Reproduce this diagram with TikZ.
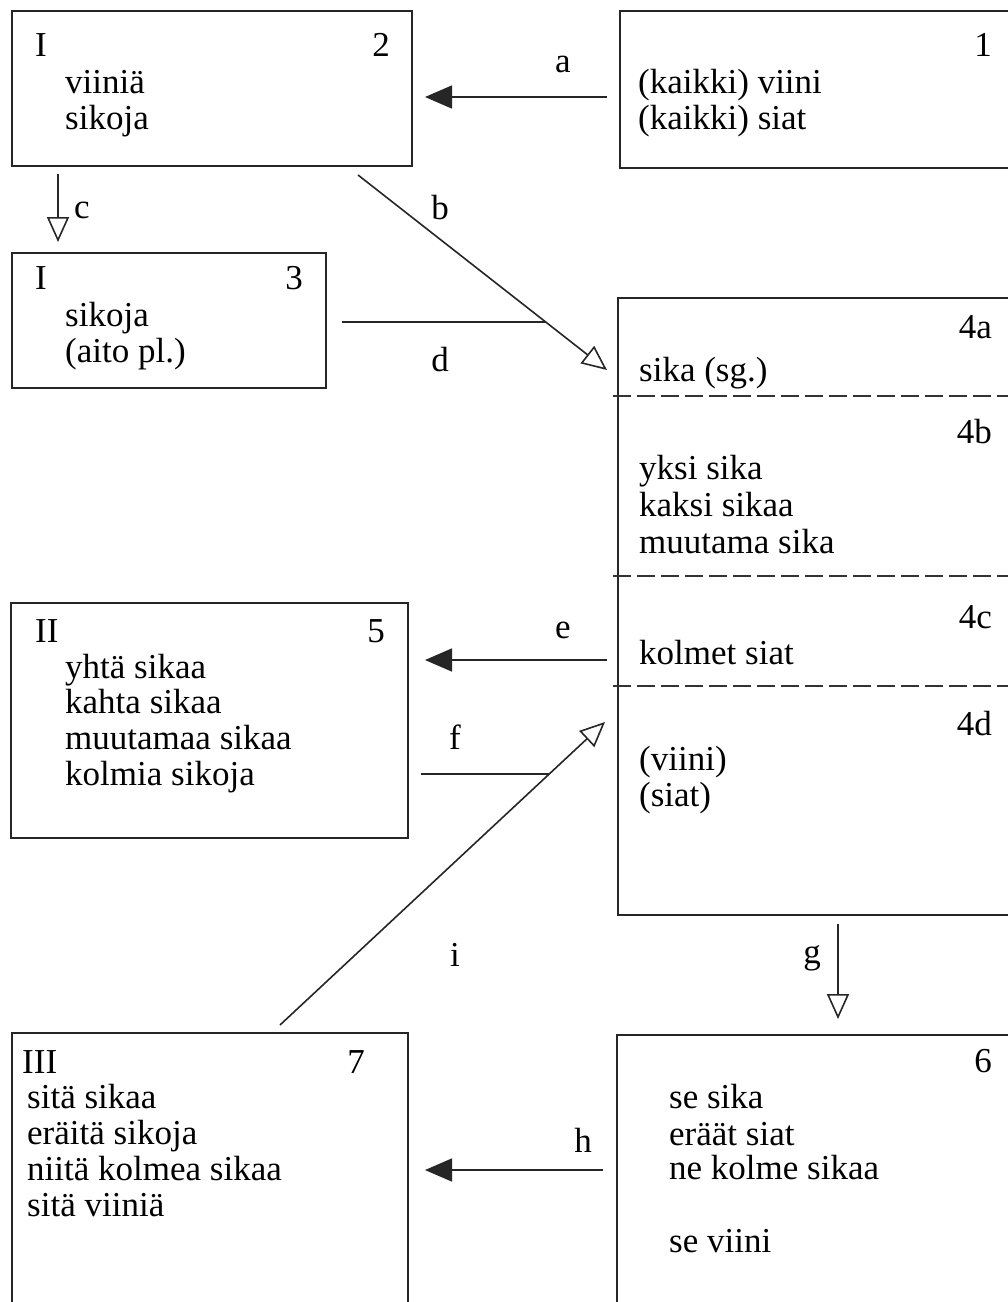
\documentclass[tikz,border=0pt]{standalone}
\usepackage{fontspec}
\setmainfont{Liberation Serif}
\usetikzlibrary{arrows.meta}
\begin{document}
\begin{tikzpicture}[x=1pt,y=-1pt,
  box/.style={draw=black!85,line width=1.5pt,anchor=north west,inner sep=0pt,outer sep=0pt},
  txt/.style={anchor=base west,inner sep=0pt,font=\fontsize{35}{36}\selectfont},
  num/.style={anchor=base east,inner sep=0pt,font=\fontsize{35}{36}\selectfont},
  lab/.style={inner sep=0pt,font=\fontsize{35}{36}\selectfont},
  conn/.style={line width=1.6pt,draw=black!85},
  solidtip/.style={conn,-{Triangle[length=27pt,width=23pt]}},
  opentip/.style={conn,-{Triangle[open,length=25pt,width=22pt,line width=1.6pt]}},
  sepline/.style={line width=1.3pt,dash pattern=on 18pt off 6pt,draw=black!80}]
\clip (0,0) rectangle (1008,1302);
\fill[white] (0,0) rectangle (1008,1302);
% boxes
\node[box,minimum width=400pt,minimum height=155pt] (b2) at (12,11) {};
\node[box,minimum width=420pt,minimum height=157pt] (b1) at (620,11) {};
\node[box,minimum width=314pt,minimum height=135pt] (b3) at (12,253) {};
\node[box,minimum width=420pt,minimum height=617pt] (b4) at (618,298) {};
\node[box,minimum width=397pt,minimum height=235pt] (b5) at (11,603) {};
\node[box,minimum width=396pt,minimum height=300pt] (b7) at (12,1033) {};
\node[box,minimum width=420pt,minimum height=300pt] (b6) at (617,1035) {};
% dashed separators in box 4
\draw[sepline] (613,396) -- (1010,396);
\draw[sepline] (613,576) -- (1010,576);
\draw[sepline] (613,686) -- (1010,686);
% box 2
\node[txt] (t2a) at (35,56) {I};
\node[num] (t2n) at (390,56) {2};
\node[txt] (t2b) at (65,93) {viiniä};
\node[txt] (t2c) at (65,129) {sikoja};
% box 1
\node[num] (t1n) at (992,56) {1};
\node[txt] (t1a) at (638,93) {(kaikki) viini};
\node[txt] (t1b) at (638,129) {(kaikki) siat};
% box 3
\node[txt] (t3a) at (35,289) {I};
\node[num] (t3n) at (303,289) {3};
\node[txt] (t3b) at (65,326) {sikoja};
\node[txt] (t3c) at (65,362) {(aito pl.)};
% box 4
\node[num] (t4a) at (992,338) {4a};
\node[txt] (t4a1) at (639,381) {sika (sg.)};
\node[num] (t4b) at (992,443) {4b};
\node[txt] (t4b1) at (639,479) {yksi sika};
\node[txt] (t4b2) at (639,516) {kaksi sikaa};
\node[txt] (t4b3) at (639,553) {muutama sika};
\node[num] (t4c) at (992,628) {4c};
\node[txt] (t4c1) at (639,664) {kolmet siat};
\node[num] (t4d) at (992,735) {4d};
\node[txt] (t4d1) at (639,770) {(viini)};
\node[txt] (t4d2) at (639,806) {(siat)};
% box 5
\node[txt] (t5a) at (35,642) {II};
\node[num] (t5n) at (385,642) {5};
\node[txt] (t5b) at (65,678) {yhtä sikaa};
\node[txt] (t5c) at (65,713) {kahta sikaa};
\node[txt] (t5d) at (65,749) {muutamaa sikaa};
\node[txt] (t5e) at (65,785) {kolmia sikoja};
% box 7
\node[txt] (t7a) at (22,1073) {III};
\node[num] (t7n) at (365,1073) {7};
\node[txt] (t7b) at (27,1108) {sitä sikaa};
\node[txt] (t7c) at (27,1144) {eräitä sikoja};
\node[txt] (t7d) at (27,1180) {niitä kolmea sikaa};
\node[txt] (t7e) at (27,1216) {sitä viiniä};
% box 6
\node[num] (t6n) at (992,1072) {6};
\node[txt] (t6a) at (669,1108) {se sika};
\node[txt] (t6b) at (669,1145) {eräät siat};
\node[txt] (t6c) at (669,1179) {ne kolme sikaa};
\node[txt] (t6d) at (669,1252) {se viini};
% connector end points
\coordinate (a0) at (607,97);   \coordinate (a1) at (425,97);
\coordinate (b0) at (358,175);  \coordinate (b1) at (607,370);
\coordinate (c0) at (58,174);   \coordinate (c1) at (58,242);
\coordinate (d0) at (342,322);  \coordinate (dj) at (545.7,322);
\coordinate (e0) at (607,660);  \coordinate (e1) at (425,660);
\coordinate (f0) at (421,774);  \coordinate (fj) at (549,774);
\coordinate (i0) at (280,1025); \coordinate (i1) at (605,722);
\coordinate (g0) at (838,924);  \coordinate (g1) at (838,1019);
\coordinate (h0) at (603,1170); \coordinate (h1) at (425,1170);
% connectors
\draw[solidtip] (a0) -- (a1);
\draw[opentip] (b0) -- (b1);
\draw[opentip] (c0) -- (c1);
\draw[conn] (d0) -- (dj);
\draw[solidtip] (e0) -- (e1);
\draw[conn] (f0) -- (fj);
\draw[opentip] (i0) -- (i1);
\draw[opentip] (g0) -- (g1);
\draw[solidtip] (h0) -- (h1);
% labels
\node[lab] (la) at (563,64) {a};
\node[lab] (lb) at (440,208) {b};
\node[lab] (lc) at (82,210) {c};
\node[lab] (ld) at (440,360) {d};
\node[lab] (le) at (563,630) {e};
\node[lab] (lf) at (455,737) {f};
\node[lab] (lg) at (812,958) {g};
\node[lab] (lh) at (583,1140) {h};
\node[lab] (li) at (455,955) {i};
\end{tikzpicture}
\end{document}
